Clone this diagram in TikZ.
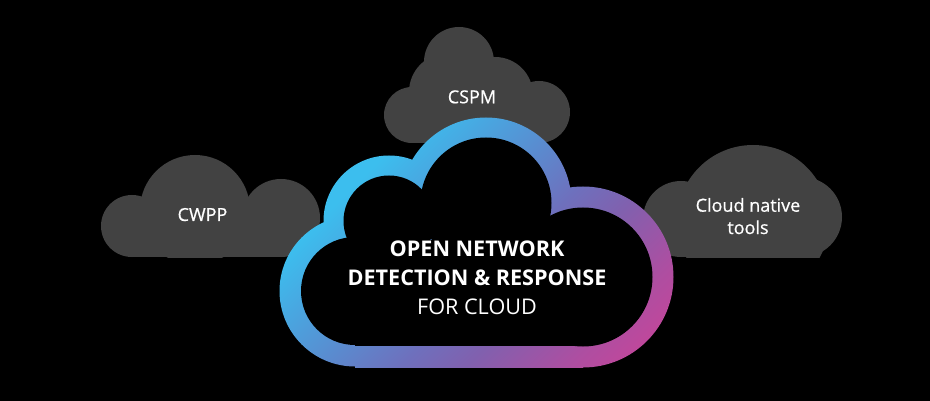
\documentclass[tikz,border=0pt]{standalone}
\usepackage{fontspec}
\setmainfont{Open Sans}
\newfontfamily\semifont[FakeBold=0.6]{Open Sans}
\definecolor{cloudgray}{HTML}{424242}
\definecolor{g1}{HTML}{3CBEEE}
\definecolor{g2}{HTML}{49A6E0}
\definecolor{g3}{HTML}{5A8BCF}
\definecolor{g4}{HTML}{6E70BD}
\definecolor{g5}{HTML}{8160AE}
\definecolor{g6}{HTML}{AE4EA1}
\definecolor{g7}{HTML}{C4469A}
\pgfdeclarehorizontalshading{ringshade}{100bp}{color(0bp)=(g1); color(30bp)=(g1); color(36bp)=(g2); color(43bp)=(g3); color(50bp)=(g4); color(56bp)=(g5); color(65bp)=(g6); color(71bp)=(g7); color(100bp)=(g7)}
\tikzset{
  graycloud/.style={fill=cloudgray},
  ringfill/.style={shading=ringshade, transform canvas={rotate around={-45:(478,245)}}},
  holefill/.style={fill=black},
  lbl/.style={text=white, inner sep=0pt, anchor=base, font=\semifont\fontsize{18}{22}\selectfont},
  titlebold/.style={text=white, inner sep=0pt, anchor=base, font=\fontsize{21.6}{26}\selectfont\bfseries},
  titlereg/.style={text=white, inner sep=0pt, anchor=base, font=\fontsize{21.6}{26}\selectfont},
}
\begin{document}
\begin{tikzpicture}[x=1pt,y=-1pt]
\fill[black] (0,0) rectangle (930,401);
\useasboundingbox (0,0) rectangle (930,401);

% CSPM cloud
\foreach \cx/\cy/\r in {459/62/35, 448/92/39, 495/95/38, 412/115/28, 539/112/31}
  \fill[graycloud] (\cx,\cy) circle (\r);
\fill[graycloud] (412,95) rectangle (539,143);

% CWPP cloud
\begin{scope}
  \clip (0,0) rectangle (930,257);
  \foreach \cx/\cy/\r in {132/226/31, 195/210/55, 281/218/39}
    \fill[graycloud] (\cx,\cy) circle (\r);
  \fill[graycloud] (132,215) rectangle (281,257);
\end{scope}

% Cloud native tools cloud
\begin{scope}
  \clip (0,0) rectangle (930,257);
  \foreach \cx/\cy/\r in {681/219/38, 753/221/76, 802/217/40}
    \fill[graycloud] (\cx,\cy) circle (\r);
  \fill[graycloud] (681,217) rectangle (802,257);
\end{scope}

% central cloud: gradient ring
\foreach \cx/\cy/\r in {355/291/75.5, 389/221/65.5, 486/203/85.5, 583/277/90.5}{
  \begin{scope}
    \clip (\cx,\cy) circle (\r);
    \shade[ringfill] (308,-75) rectangle (708,565);
  \end{scope}
}
\begin{scope}
  \clip (355,240) rectangle (583,367);
  \shade[ringfill] (308,-75) rectangle (708,565);
\end{scope}
% central cloud: black interior
\foreach \cx/\cy/\r in {355/291/54, 389/221/45.5, 486/203/65.5, 583/277/69.5}
  \fill[holefill] (\cx,\cy) circle (\r);
\fill[holefill] (355,240) rectangle (583,346);

% labels
\node[lbl] (cspm) at (472,103.3) {CSPM};
\node[lbl] (cwpp) at (202.5,221) {CWPP};
\node[lbl] (cnt1) at (748,211.7) {Cloud native};
\node[lbl] (cnt2) at (748,234) {tools};
\node[titlebold] (t1) at (477,256.7) {OPEN NETWORK};
\node[titlebold] (t2) at (477,285.7) {DETECTION \& RESPONSE};
\node[titlereg] (t3) at (477,314.3) {FOR CLOUD};
\end{tikzpicture}
\end{document}
